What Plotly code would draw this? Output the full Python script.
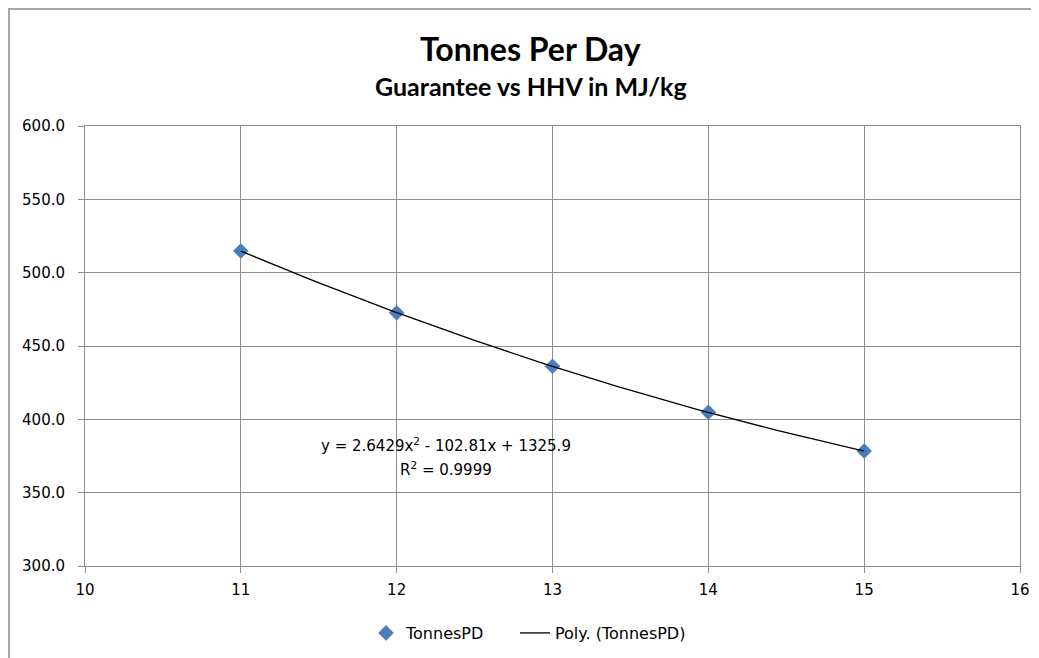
import numpy as np
import plotly.graph_objects as go

# Data
hhv = [11, 12, 13, 14, 15]
tonnes_pd = [514.8, 472.6, 436.2, 404.8, 378.4]
y_ticks = [300, 350, 400, 450, 500, 550, 600]
x_ticks = [10, 11, 12, 13, 14, 15, 16]
title_text = "Tonnes Per Day"
subtitle_text = "Guarantee vs HHV in MJ/kg"
eq_text = "y = 2.6429x<sup>2</sup> - 102.81x + 1325.9"
r2_text = "R<sup>2</sup> = 0.9999"

# Polynomial trendline (order 2) fitted to the data
coef = np.polyfit(hhv, tonnes_pd, 2)
xs = np.linspace(min(hhv), max(hhv), 100)
ys = np.polyval(coef, xs)

TFONT = "Lato, Carlito, Calibri, sans-serif"
FONT = "DejaVu Sans, Verdana, sans-serif"
GRID = "#8e8e8e"

# figure sits at an 8px page offset; plot area targets screen x 85-1020, y 126-566
W, H = 1031, 650
L, T = 77, 118
PW, PH = 935, 440

fig = go.Figure()
fig.add_trace(go.Scatter(
    x=hhv, y=tonnes_pd, mode="markers", name="TonnesPD",
    marker=dict(symbol="diamond", size=12, color="#4a7ebb",
                line=dict(width=0)),
    legend="legend",
))
fig.add_trace(go.Scatter(
    x=xs, y=ys, mode="lines", name="Poly. (TonnesPD)",
    line=dict(color="#000000", width=1.3),
    legend="legend2",
))

leg_common = dict(orientation="h", yanchor="middle", xanchor="left",
                  y=(566 - 633) / PH, font=dict(size=16, family=FONT),
                  itemwidth=30, bgcolor="rgba(0,0,0,0)")

fig.update_layout(
    width=W, height=H,
    margin=dict(l=L, r=W - L - PW, t=T, b=H - T - PH, autoexpand=False),
    paper_bgcolor="white", plot_bgcolor="white",
    font=dict(family=FONT, size=14, color="#000"),
    showlegend=True,
    legend=dict(x=(366 - 85) / PW, **leg_common),
    legend2=dict(x=(515 - 85) / PW, **leg_common),
    xaxis=dict(range=[10, 16], tickvals=x_ticks, showgrid=True,
               gridcolor=GRID, gridwidth=1, showline=True,
               linecolor=GRID, linewidth=1, mirror=True, automargin=False,
               ticks="outside", ticklen=6, tickcolor=GRID, zeroline=False,
               ticklabelstandoff=4,
               tickfont=dict(size=15, family=FONT)),
    yaxis=dict(range=[300, 600], tickvals=y_ticks, tickformat=".1f",
               showgrid=True, gridcolor=GRID, gridwidth=1, showline=True,
               linecolor=GRID, linewidth=1, mirror=True, automargin=False,
               ticks="outside", ticklen=6, tickcolor=GRID, zeroline=False,
               ticklabelstandoff=10,
               tickfont=dict(size=15, family=FONT)),
)

# Chart border
fig.add_shape(type="rect", xref="paper", yref="paper",
              x0=(1 - L) / PW, x1=1.2, y0=-0.4, y1=1 + (T - 1) / PH,
              line=dict(color="#a6a6a6", width=2), layer="below")

# Titles
fig.add_annotation(text=f"<b>{title_text}</b>", xref="paper", yref="paper",
                   x=(530 - 85) / PW, y=1 + (126 - 48) / PH,
                   showarrow=False, font=dict(size=32, family=TFONT, color="#000"),
                   xanchor="center", yanchor="middle")
fig.add_annotation(text=f"<b>{subtitle_text}</b>", xref="paper", yref="paper",
                   x=(531 - 85) / PW, y=1 + (126 - 86) / PH,
                   showarrow=False, font=dict(size=25, family=TFONT, color="#000"),
                   xanchor="center", yanchor="middle")

# Trendline equation
fig.add_annotation(text=eq_text, x=10 + (446 - 85) / (PW / 6),
                   y=(566 - 445) / PH * 300 + 300,
                   showarrow=False, font=dict(size=15, family=FONT, color="#000"),
                   xanchor="center", yanchor="middle")
fig.add_annotation(text=r2_text, x=10 + (446 - 85) / (PW / 6),
                   y=(566 - 469) / PH * 300 + 300,
                   showarrow=False, font=dict(size=15, family=FONT, color="#000"),
                   xanchor="center", yanchor="middle")

fig.write_html("out.html")
